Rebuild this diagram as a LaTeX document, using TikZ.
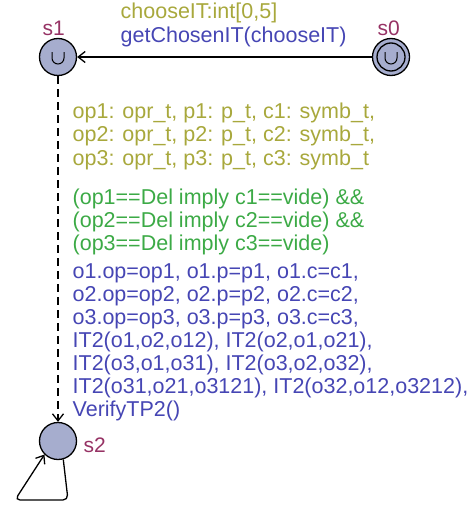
\documentclass[tikz,border=0pt]{standalone}
\usepackage{fontspec}
\setmainfont{Liberation Sans}
\usetikzlibrary{arrows.meta}
\definecolor{locfill}{RGB}{166,173,206}
\definecolor{locname}{RGB}{150,50,100}
\definecolor{selcol}{RGB}{168,168,60}
\definecolor{guardcol}{RGB}{60,170,70}
\definecolor{updcol}{RGB}{70,70,180}
\newcommand{\urgmark}[1]{\draw[line width=1pt] (#1) ++(-6,-5) -- ++(0,6) arc[start angle=180,end angle=360,radius=6pt] -- ++(0,-6);}

\begin{document}
\begin{tikzpicture}[x=1pt,y=-1pt,>={Straight Barb[length=7pt,width=11pt]},line width=1.3pt,
		loc/.style={draw,circle,fill=locfill,minimum size=37pt,inner sep=0pt},
		lbl/.style={anchor=base west,inner sep=0pt,font=\fontsize{21.5}{23.5}\selectfont},
		locname/.style={anchor=base west,inner sep=0pt,text=locname,font=\fontsize{21}{23}\selectfont}]
		\useasboundingbox (0,0) rectangle (471,506);
		\node[loc] (s1) at (58,57) {};
		\node[loc] (s0) at (391,57) {};
		\node[loc] (s2) at (58,441) {};
		\draw (s0.center) circle (14);
		\urgmark{s1.center}
		\urgmark{s0.center}
		\node[locname] (n1) at (42,35) {s1};
		\node[locname] (n0) at (377,35) {s0};
		\node[locname] (n2) at (83,452) {s2};
		\draw[->] (s0) -- (s1);
		\draw[->,dashed,dash pattern=on 8pt off 5pt] (s1) -- (s2);
		\draw[->,rounded corners=5pt] (s2.286) -- (68,500) -- (15,500) -- (s2.225);
		\node[lbl,text=selcol] (sel0) at (120,18) {chooseIT:int[0,5]};
		\node[lbl,text=updcol] (upd0) at (120,42) {getChosenIT(chooseIT)};
		\foreach \t [count=\i from 0] in {{op1: opr\_t, p1: p\_t, c1: symb\_t,},{op2: opr\_t, p2: p\_t, c2: symb\_t,},{op3: opr\_t, p3: p\_t, c3: symb\_t}}
		\node[lbl,text=selcol] (sel\i) at (72,118+23.5*\i) {\t};
		\foreach \t [count=\i from 0] in {{(op1==Del imply c1==vide) \&\&},{(op2==Del imply c2==vide) \&\&},{(op3==Del imply c3==vide)}}
		\node[lbl,text=guardcol] (grd\i) at (72,204+23*\i) {\t};
		\foreach \t [count=\i from 0] in {{o1.op=op1, o1.p=p1, o1.c=c1,},{o2.op=op2, o2.p=p2, o2.c=c2,},{o3.op=op3, o3.p=p3, o3.c=c3,},{IT2(o1,o2,o12), IT2(o2,o1,o21),},{IT2(o3,o1,o31), IT2(o3,o2,o32),},{IT2(o31,o21,o3121), IT2(o32,o12,o3212),},{VerifyTP2()}}
		\node[lbl,text=updcol] (upd\i) at (72,278+23*\i) {\t};
\end{tikzpicture}
\end{document}
